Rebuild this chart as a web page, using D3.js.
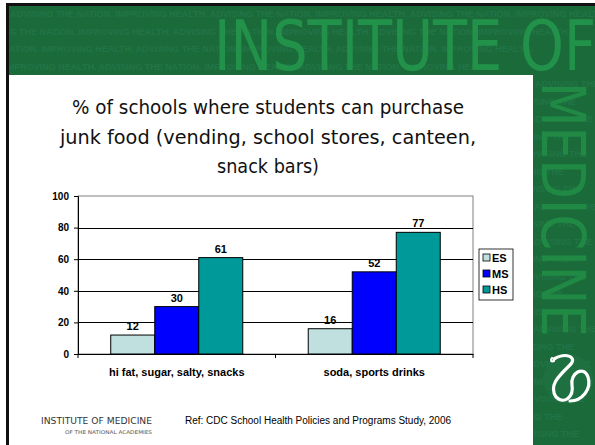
<!DOCTYPE html>
<html>
<head>
<meta charset="utf-8">
<script src="https://cdn.jsdelivr.net/npm/d3@7"></script>
<style>
  html, body { margin: 0; padding: 0; background: #fff; }
  svg { display: block; }
</style>
</head>
<body>
<div id="chart"></div>
<script>
// chart data
const categories = ["hi fat, sugar, salty, snacks", "soda, sports drinks"];
const series = ["ES", "MS", "HS"];
const ES = [12, 16];
const MS = [30, 52];
const HS = [61, 77];
const yTicks = [0, 20, 40, 60, 80, 100];
const titleLines = ["% of schools where students can purchase",
                    "junk food  (vending, school stores,  canteen,",
                    "snack bars)"];
const colors = {ES: "#c0e0e0", MS: "#0000ff", HS: "#009999"};

const values = {ES: ES, MS: MS, HS: HS};

const W = 595, H = 445;
const svg = d3.select("#chart").append("svg")
  .attr("width", W).attr("height", H);

// ---- slide background ----
const green = "#1b6b3a";
svg.append("clipPath").attr("id", "bannerClip")
  .append("path").attr("d", "M8,5H595V445H533V75H8Z");

svg.append("rect").attr("width", W).attr("height", H).attr("fill", "#fff");
const deco = svg.append("g").attr("clip-path", "url(#bannerClip)");
deco.append("rect").attr("width", W).attr("height", H).attr("fill", green);

// faint motto rows: across the banner, then short pieces down the side column
const motto = "ADVISING THE NATION. IMPROVING HEALTH. ";
[17, 34.5, 52, 69.5].forEach(function(y, i){
  deco.append("text")
    .attr("x", 10 - ((i * 37) % 120)).attr("y", y)
    .attr("font-family", "Liberation Sans, Arial, sans-serif")
    .attr("font-weight", "bold").attr("font-size", 9)
    .attr("fill", "#24774a").attr("opacity", 0.75)
    .text(motto.repeat(3));
});
for (let y = 87, i = 0; y < 445; y += 17.5, i++) {
  deco.append("text")
    .attr("x", 535 - ((i * 23) % 40)).attr("y", y)
    .attr("font-family", "Liberation Sans, Arial, sans-serif")
    .attr("font-weight", "bold").attr("font-size", 9)
    .attr("fill", "#24774a").attr("opacity", 0.75)
    .text("ADVISING THE");
}

deco.append("text")
  .attr("x", 214).attr("y", 70)
  .attr("font-family", "DejaVu Sans, sans-serif")
  .attr("font-size", 70)
  .attr("fill", "#22924a")
  .attr("textLength", 382).attr("lengthAdjust", "spacingAndGlyphs")
  .text("INSTITUTE OF");

deco.append("text")
  .attr("transform", "translate(542,82) rotate(90)")
  .attr("font-family", "DejaVu Sans, sans-serif")
  .attr("font-size", 60)
  .attr("fill", "#208a45")
  .attr("textLength", 255).attr("lengthAdjust", "spacingAndGlyphs")
  .text("MEDICINE");

// snake logo
const logo = svg.append("g").attr("transform", "translate(568,379)")
  .attr("fill", "none").attr("stroke", "#fff").attr("stroke-linecap", "round");
logo.append("circle").attr("r", 25).attr("fill", "#1f7040").attr("stroke", "none");
logo.append("path").attr("stroke-width", 3.2)
  .attr("d", "M-14,-20 C-2,-27 10,-22 2,-14 C-8,-4 -20,6 -12,18 C-4,26 6,18 4,6 C2,-6 16,-14 20,-2 C24,10 14,22 2,22");
logo.append("path").attr("stroke-width", 2.2)
  .attr("d", "M-16,-21 C-18,-19 -17,-17 -14,-18");

// left / top dark border
svg.append("rect").attr("x", 6).attr("y", 4).attr("width", 3).attr("height", H - 4).attr("fill", "#111");
svg.append("rect").attr("x", 6).attr("y", 3).attr("width", W - 6).attr("height", 3).attr("fill", "#111");

// ---- title ----
const titleY = [114, 144, 173];
const titleW = [392, 416, 102];
svg.append("g").selectAll("text").data(titleLines).join("text")
  .attr("x", 268).attr("y", (d, i) => titleY[i])
  .attr("text-anchor", "middle")
  .attr("font-family", "DejaVu Sans, sans-serif")
  .attr("font-size", 20).attr("fill", "#111")
  .attr("textLength", (d, i) => titleW[i]).attr("lengthAdjust", "spacingAndGlyphs")
  .text(d => d);

// ---- chart ----
const plot = {left: 78, right: 473, top: 196, bottom: 354};

const x = d3.scaleBand().domain(categories).range([plot.left, plot.right]);
const x1 = d3.scaleBand().domain(series).range([0, x.bandwidth()]).paddingOuter(0.744);
const y = d3.scaleLinear().domain([0, 100]).range([plot.bottom, plot.top]);

const g = svg.append("g");

// plot frame (gray)
g.append("rect")
  .attr("x", plot.left).attr("y", plot.top)
  .attr("width", plot.right - plot.left).attr("height", plot.bottom - plot.top)
  .attr("fill", "none").attr("stroke", "#808080").attr("stroke-width", 1);

// gridlines
g.append("g").selectAll("line").data(yTicks.filter(t => t > 0 && t < 100)).join("line")
  .attr("x1", plot.left).attr("x2", plot.right)
  .attr("y1", d => Math.round(y(d)) + 0.5).attr("y2", d => Math.round(y(d)) + 0.5)
  .attr("stroke", "#000").attr("stroke-width", 1);

// bars
const groups = g.append("g").selectAll("g").data(categories).join("g")
  .attr("transform", d => "translate(" + x(d) + ",0)");

groups.selectAll("rect").data((c, ci) => series.map(s => ({s: s, v: values[s][ci]}))).join("rect")
  .attr("x", d => x1(d.s)).attr("width", x1.bandwidth())
  .attr("y", d => y(d.v)).attr("height", d => y(0) - y(d.v))
  .attr("fill", d => colors[d.s]).attr("stroke", "#000").attr("stroke-width", 1);

groups.selectAll("text").data((c, ci) => series.map(s => ({s: s, v: values[s][ci]}))).join("text")
  .attr("x", d => x1(d.s) + x1.bandwidth() / 2).attr("y", d => y(d.v) - 5)
  .attr("text-anchor", "middle")
  .attr("font-family", "Liberation Sans, Arial, sans-serif")
  .attr("font-weight", "bold").attr("font-size", 11)
  .text(d => d.v);

// y axis
const yAxis = g.append("g").attr("transform", "translate(" + plot.left + ",0)")
  .call(d3.axisLeft(y).tickValues(yTicks).tickSize(4).tickPadding(5));
yAxis.select(".domain").attr("stroke", "#000");
yAxis.selectAll("text")
  .attr("font-family", "Liberation Sans, Arial, sans-serif")
  .attr("font-weight", "bold").attr("font-size", 10).attr("fill", "#000");

// x axis
const xAxis = g.append("g").attr("transform", "translate(0," + plot.bottom + ")")
  .call(d3.axisBottom(x).tickSize(0).tickPadding(14));
xAxis.select(".domain").attr("stroke", "#000");
xAxis.selectAll("text")
  .attr("font-family", "Liberation Sans, Arial, sans-serif")
  .attr("font-weight", "bold").attr("font-size", 11).attr("fill", "#000");
// tick marks at the category boundaries
xAxis.append("g").selectAll("line")
  .data(categories.map(c => x(c)).concat([plot.right]))
  .join("line")
  .attr("x1", d => d).attr("x2", d => d).attr("y1", 0).attr("y2", 4)
  .attr("stroke", "#000");

// legend
const legend = g.append("g").attr("transform", "translate(479,249)");
legend.append("rect").attr("width", 34).attr("height", 51)
  .attr("fill", "#fff").attr("stroke", "#000").attr("stroke-width", 0.8);
series.forEach(function(s, i){
  legend.append("rect").attr("x", 4).attr("y", 5 + i * 16).attr("width", 7).attr("height", 7)
    .attr("fill", colors[s]).attr("stroke", "#000").attr("stroke-width", 0.8);
  legend.append("text").attr("x", 13).attr("y", 12.5 + i * 16)
    .attr("font-family", "Liberation Sans, Arial, sans-serif")
    .attr("font-weight", "bold").attr("font-size", 11)
    .text(s);
});

// ---- footer ----
svg.append("text").attr("x", 41).attr("y", 424)
  .attr("font-family", "DejaVu Sans, sans-serif").attr("font-size", 9)
  .attr("fill", "#333").attr("textLength", 111).attr("lengthAdjust", "spacingAndGlyphs")
  .text("INSTITUTE OF MEDICINE");
svg.append("text").attr("x", 65).attr("y", 434)
  .attr("font-family", "DejaVu Sans, sans-serif").attr("font-size", 5)
  .attr("fill", "#555").attr("textLength", 87).attr("lengthAdjust", "spacingAndGlyphs")
  .text("OF THE NATIONAL ACADEMIES");
svg.append("text").attr("x", 185).attr("y", 424)
  .attr("font-family", "Liberation Sans, Arial, sans-serif").attr("font-size", 10)
  .attr("fill", "#000")
  .text("Ref: CDC School Health Policies and Programs Study, 2006");
</script>
</body>
</html>
